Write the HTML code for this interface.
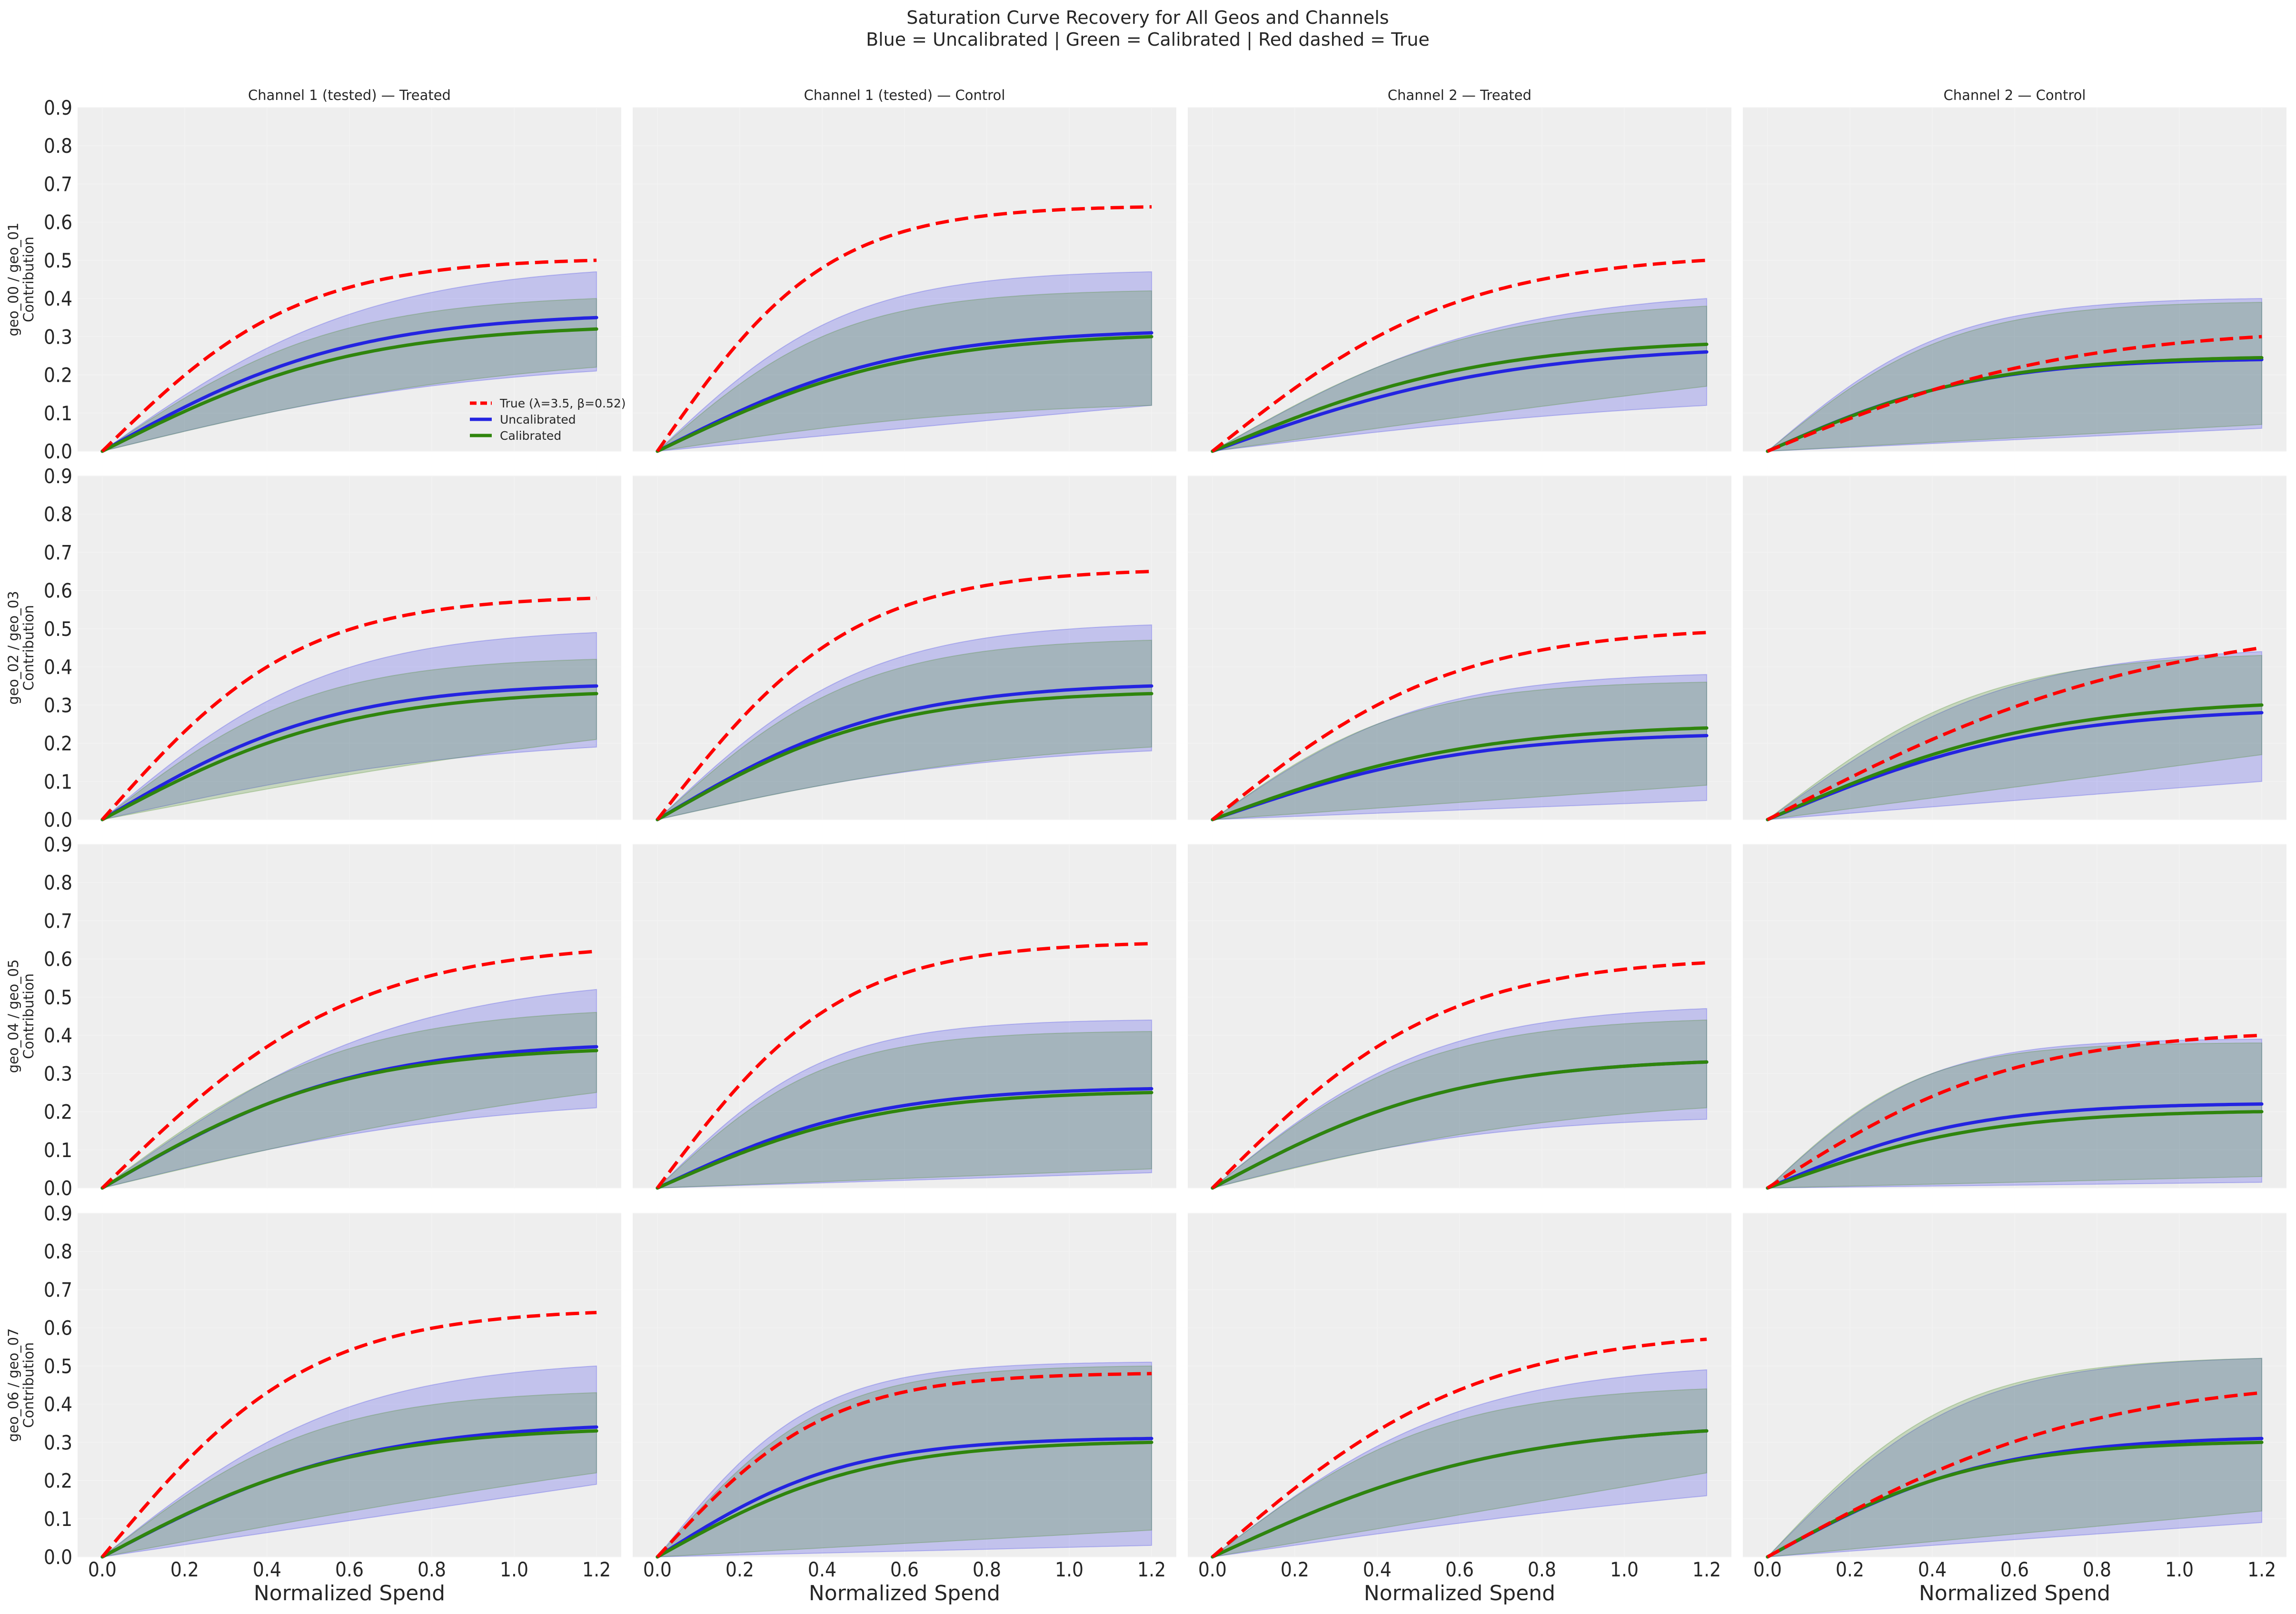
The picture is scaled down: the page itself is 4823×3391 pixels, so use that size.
<!DOCTYPE html>
<html><head><meta charset="utf-8">
<style>
html,body{margin:0;padding:0;background:#fff;}
svg{display:block;font-family:"DejaVu Sans","Liberation Sans",sans-serif;}
</style></head>
<body>
<svg id="s" xmlns="http://www.w3.org/2000/svg" width="4823" height="3391" viewBox="0 0 4823 3391">
<rect width="4823" height="3391" fill="#fff"/>
<text x="2411" y="50" font-size="38" text-anchor="middle" fill="#262626">Saturation Curve Recovery for All Geos and Channels</text>
<text x="2411" y="96" font-size="38" text-anchor="middle" fill="#262626">Blue = Uncalibrated | Green = Calibrated | Red dashed = True</text>
<g id="g"></g>
</svg>
<script>
var P=[
[[.50,.345,.35,.21,.32,.19,.47,.27,.21,.10,.40,.25,.22,.10],
 [.64,.48,.31,.19,.30,.18,.47,.33,.12,.04,.42,.30,.12,.06],
 [.50,.30,.26,.14,.28,.16,.40,.22,.12,.05,.38,.22,.17,.06],
 [.30,.16,.24,.16,.245,.16,.40,.29,.06,.01,.39,.28,.07,.015]],
[[.58,.40,.35,.22,.33,.20,.49,.31,.19,.09,.42,.28,.21,.08],
 [.65,.45,.35,.22,.33,.21,.51,.34,.18,.09,.47,.32,.19,.09],
 [.49,.30,.22,.13,.24,.14,.38,.25,.05,.01,.36,.25,.09,.012],
 [.45,.21,.28,.16,.30,.17,.44,.27,.10,.03,.43,.28,.17,.04]],
[[.62,.37,.37,.22,.36,.22,.52,.28,.21,.10,.46,.28,.25,.10],
 [.64,.46,.26,.17,.25,.16,.44,.33,.04,.006,.41,.31,.05,.01],
 [.59,.37,.33,.20,.33,.20,.47,.30,.18,.10,.44,.29,.21,.10],
 [.40,.24,.22,.15,.20,.13,.39,.30,.015,.002,.38,.30,.03,.006]],
[[.64,.43,.34,.20,.33,.20,.50,.30,.19,.06,.43,.28,.22,.08],
 [.48,.36,.31,.22,.30,.20,.51,.40,.03,.004,.50,.38,.07,.01],
 [.57,.33,.33,.18,.33,.18,.49,.29,.16,.06,.44,.28,.22,.07],
 [.43,.22,.31,.20,.30,.20,.52,.36,.09,.03,.52,.37,.12,.04]]];
var titles=["Channel 1 (tested) \u2014 Treated","Channel 1 (tested) \u2014 Control","Channel 2 \u2014 Treated","Channel 2 \u2014 Control"];
var geos=["geo_00 / geo_01","geo_02 / geo_03","geo_04 / geo_05","geo_06 / geo_07"];
var colX=[163,1329,2495,3661],W=1142,H=722,rowY=[226,1000,1774,2549];
function fitk(r){ if(r<=0.3345)return 0.05; var lo=0.01,hi=60;
 for(var i=0;i<80;i++){var m=(lo+hi)/2;var v=Math.tanh(0.2*m)/Math.tanh(0.6*m);
  if(v>r)hi=m;else lo=m;} return (lo+hi)/2;}
function curve(E,V){var k=fitk(V/E);var A=E/Math.tanh(0.6*k);var pts=[];
 for(var i=0;i<=120;i++){var x=i*0.01;pts.push([x,A*Math.tanh(k*x/2)]);}return pts;}
var out="";
for(var r=0;r<4;r++)for(var c=0;c<4;c++){
 var x0=colX[c],y0=rowY[r],d=P[r][c];
 var X=function(v){return x0+(v+0.06)/1.32*W;},Y=function(v){return y0+H-v/0.9*H;};
 out+='<rect x="'+x0+'" y="'+y0+'" width="'+W+'" height="'+H+'" fill="#eeeeee"/>';
 for(var t=0;t<=9;t++){var yy=Y(t/10);out+='<line x1="'+x0+'" x2="'+(x0+W)+'" y1="'+yy+'" y2="'+yy+'" stroke="#f3f3f3" stroke-width="1.5"/>';}
 for(var t=0;t<=6;t++){var xx=X(t*0.2);out+='<line x1="'+xx+'" x2="'+xx+'" y1="'+y0+'" y2="'+(y0+H)+'" stroke="#f3f3f3" stroke-width="1.5"/>';}
 function path(p){return p.map(function(q,i){return (i?'L':'M')+X(q[0]).toFixed(1)+','+Y(q[1]).toFixed(1);}).join('');}
 function band(u,l,fill,st){var pu=curve(u[0],u[1]),pl=curve(l[0],l[1]).reverse();
  out+='<path d="'+path(pu)+path(pl).replace('M','L')+'Z" fill="'+fill+'" stroke="'+st+'" stroke-width="2"/>';}
 band([d[6],d[7]],[d[8],d[9]],"rgba(40,40,230,0.22)","rgba(40,40,230,0.25)");
 band([d[10],d[11]],[d[12],d[13]],"rgba(60,130,20,0.22)","rgba(60,130,20,0.25)");
 out+='<path d="'+path(curve(d[2],d[3]))+'" fill="none" stroke="#2424e0" stroke-width="7" stroke-linecap="round"/>';
 out+='<path d="'+path(curve(d[4],d[5]))+'" fill="none" stroke="#2f850d" stroke-width="7" stroke-linecap="round"/>';
 out+='<path d="'+path(curve(d[0],d[1]))+'" fill="none" stroke="#ff0000" stroke-width="7" stroke-dasharray="28,13"/>';
 if(r==0)out+='<text x="'+(x0+W/2)+'" y="210" font-size="29" text-anchor="middle" fill="#262626">'+titles[c]+'</text>';
 if(c==0){for(var t=0;t<=9;t++)out+='<text x="152" y="'+(Y(t/10)+15)+'" font-size="42" text-anchor="end" fill="#262626" font-stretch="condensed">'+(t/10).toFixed(1)+'</text>';
  var cy=y0+H/2;
  out+='<text transform="translate(38,'+cy+') rotate(-90)" font-size="29" text-anchor="middle" fill="#262626">'+geos[r]+'</text>';
  out+='<text transform="translate(70,'+cy+') rotate(-90)" font-size="29" text-anchor="middle" fill="#262626">Contribution</text>';}
 if(r==3){for(var t=0;t<=6;t++)out+='<text x="'+X(t*0.2)+'" y="3312" font-size="42" text-anchor="middle" fill="#262626" font-stretch="condensed">'+(t*0.2).toFixed(1)+'</text>';
  out+='<text x="'+(x0+W/2)+'" y="3362" font-size="44" text-anchor="middle" fill="#262626">Normalized Spend</text>';}
}
out+='<line x1="987" x2="1033" y1="847" y2="847" stroke="#ff0000" stroke-width="7" stroke-dasharray="14,8"/>';
out+='<text x="1050" y="856" font-size="25" fill="#262626">True (\u03bb=3.5, \u03b2=0.52)</text>';
out+='<line x1="987" x2="1033" y1="881" y2="881" stroke="#2424e0" stroke-width="7"/>';
out+='<text x="1050" y="890" font-size="25" fill="#262626">Uncalibrated</text>';
out+='<line x1="987" x2="1033" y1="915" y2="915" stroke="#2f850d" stroke-width="7"/>';
out+='<text x="1050" y="924" font-size="25" fill="#262626">Calibrated</text>';
document.getElementById('g').innerHTML=out;
</script>
</body></html>
